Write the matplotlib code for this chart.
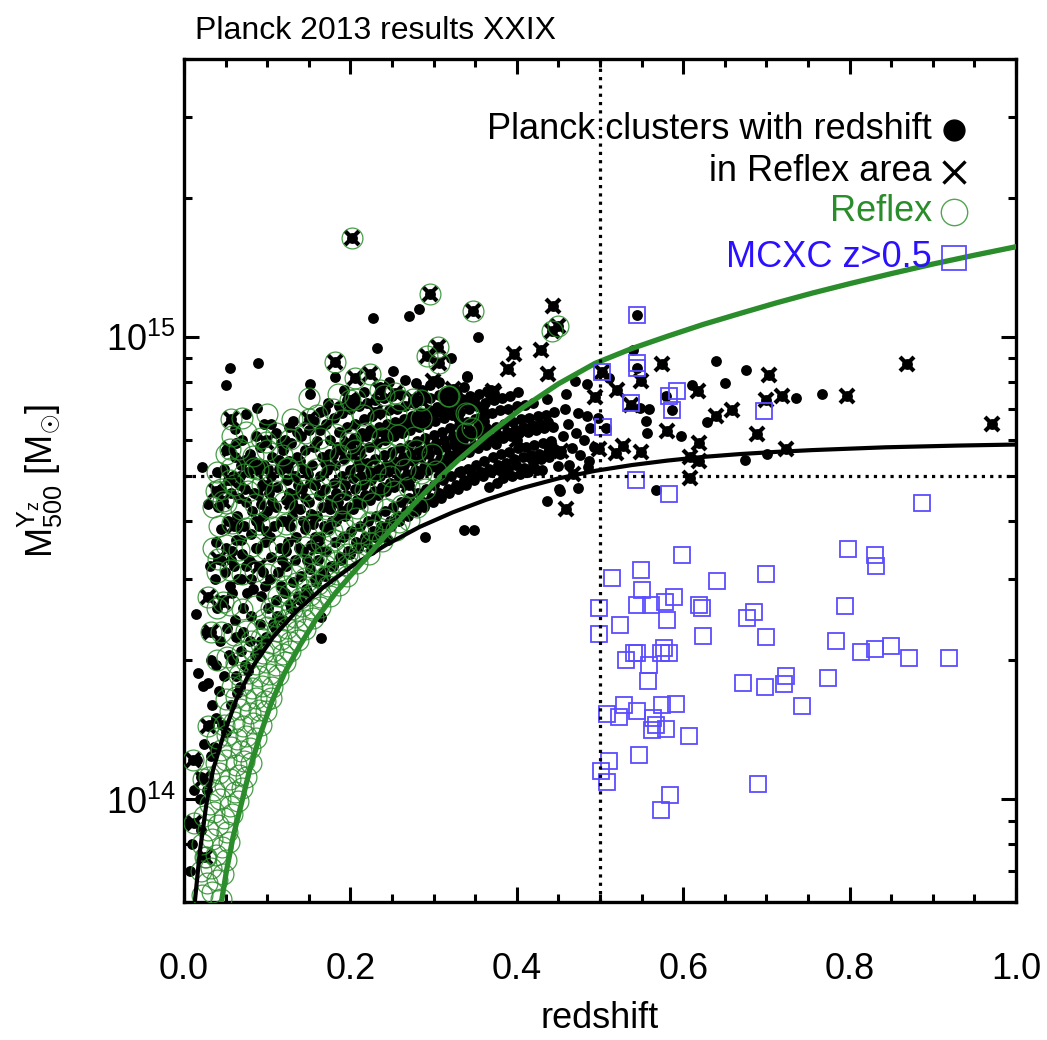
import numpy as np
import matplotlib.pyplot as plt
from matplotlib.ticker import NullFormatter, FixedLocator, MultipleLocator

plt.rcParams['font.family'] = ['Liberation Sans', 'DejaVu Sans']
plt.rcParams['mathtext.fontset'] = 'custom'
plt.rcParams['mathtext.rm'] = 'Liberation Sans'
plt.rcParams['mathtext.it'] = 'Liberation Sans:italic'
plt.rcParams['mathtext.bf'] = 'Liberation Sans:bold'

# all masses in units of 1e14 Msun
# selection curves
black_z = [0.013, 0.019, 0.027, 0.035, 0.047, 0.063, 0.083, 0.107, 0.135, 0.167, 0.203, 0.243,
           0.283, 0.323, 0.363, 0.407, 0.450, 0.494, 0.538, 0.581, 0.624, 0.669, 0.712, 0.755,
           0.843, 0.930, 1.0]
black_m = [0.60, 0.77, 0.98, 1.16, 1.37, 1.647, 1.944, 2.244, 2.553, 2.873, 3.209, 3.556,
           3.886, 4.18, 4.45, 4.72, 4.95, 5.14, 5.29, 5.41, 5.51, 5.59, 5.65, 5.70,
           5.78, 5.83, 5.86]
green_z = [0.045, 0.051, 0.059, 0.069, 0.079, 0.091, 0.105, 0.121, 0.139, 0.159, 0.183, 0.211,
           0.243, 0.275, 0.307, 0.330, 0.363, 0.407, 0.450, 0.494, 0.538, 0.581, 0.624, 0.669,
           0.712, 0.755, 0.800, 0.850, 0.900, 0.950, 1.0]
green_m = [0.60, 0.70, 0.83, 0.98, 1.16, 1.37, 1.62, 1.88, 2.15, 2.46, 2.81, 3.21,
           3.74, 4.33, 4.97, 5.43, 6.11, 7.04, 7.93, 8.78, 9.45, 10.05, 10.66, 11.27,
           11.87, 12.46, 13.06, 13.73, 14.40, 15.05, 15.7]

# Planck clusters with redshift (dots only)
dots = [
    (0.005, 0.89), (0.007, 0.70), (0.010, 0.80), (0.012, 1.05), (0.015, 2.52), (0.016, 1.22),
    (0.017, 1.88), (0.019, 1.00), (0.021, 1.12), (0.023, 1.76), (0.022, 5.25), (0.020, 0.86), (0.024, 1.32),
    (0.029, 1.79), (0.028, 1.05), (0.030, 1.45), (0.033, 1.24), (0.027, 2.30), (0.031, 3.20), (0.032, 2.00),
    (0.034, 1.60), (0.029, 4.35),
    (0.036, 1.30), (0.038, 1.95), (0.040, 2.60), (0.042, 1.72), (0.037, 3.00), (0.039, 3.60), (0.041, 4.30),
    (0.043, 2.20), (0.044, 3.30), (0.040, 5.10), (0.038, 1.50), (0.044, 4.70),
    (0.046, 1.45), (0.048, 1.85), (0.050, 1.40), (0.052, 2.35), (0.047, 2.70), (0.049, 3.10), (0.051, 3.50),
    (0.053, 4.00), (0.046, 4.40), (0.048, 5.20), (0.051, 5.70), (0.051, 7.89), (0.055, 8.58), (0.054, 2.05),
    (0.055, 2.90), (0.045, 3.85), (0.053, 4.90), (0.056, 3.30),
    (0.057, 1.60), (0.059, 2.00), (0.061, 2.45), (0.063, 1.85), (0.058, 2.80), (0.060, 3.20), (0.062, 3.65),
    (0.064, 4.10), (0.057, 4.60), (0.059, 5.00), (0.061, 5.50), (0.061, 6.34), (0.063, 2.25), (0.065, 3.00),
    (0.066, 4.50), (0.058, 3.45), (0.062, 5.90), (0.064, 1.70),
    (0.067, 1.75), (0.069, 2.10), (0.071, 2.60), (0.073, 1.95), (0.068, 3.00), (0.070, 3.40), (0.072, 3.90),
    (0.074, 4.40), (0.067, 4.80), (0.069, 5.30), (0.073, 5.43), (0.067, 5.00), (0.075, 6.81), (0.071, 2.30),
    (0.075, 3.20), (0.076, 2.80), (0.068, 3.65), (0.073, 4.70), (0.070, 6.00),
    (0.077, 1.90), (0.079, 2.20), (0.081, 2.50), (0.083, 2.85), (0.078, 3.30), (0.080, 3.75), (0.082, 4.20),
    (0.084, 4.60), (0.077, 5.10), (0.079, 5.60), (0.088, 7.04), (0.089, 8.79), (0.090, 5.13), (0.085, 2.05),
    (0.086, 3.50), (0.081, 3.00), (0.083, 5.40), (0.086, 4.00), (0.087, 6.10),
    (0.089, 2.10), (0.091, 2.40), (0.093, 2.75), (0.095, 3.10), (0.088, 3.50), (0.090, 3.90), (0.092, 4.35),
    (0.094, 4.80), (0.096, 5.30), (0.096, 6.49), (0.091, 5.80), (0.093, 2.20), (0.097, 3.60), (0.089, 4.55),
    (0.095, 4.10), (0.097, 2.90),
    (0.099, 2.25), (0.101, 2.60), (0.103, 3.00), (0.105, 3.35), (0.098, 3.80), (0.100, 4.20), (0.102, 4.60),
    (0.104, 5.00), (0.106, 5.50), (0.105, 6.49), (0.099, 6.00), (0.107, 2.40), (0.103, 3.70), (0.106, 4.40),
    (0.101, 5.20),
    (0.109, 2.35), (0.111, 2.70), (0.113, 3.10), (0.115, 3.50), (0.108, 3.90), (0.110, 4.30), (0.112, 4.75),
    (0.114, 5.20), (0.114, 5.43), (0.116, 5.90), (0.112, 2.50), (0.116, 4.00), (0.118, 3.30), (0.110, 6.20),
    (0.117, 2.90),
    (0.119, 2.45), (0.121, 2.80), (0.123, 3.20), (0.125, 3.60), (0.120, 4.00), (0.122, 4.45), (0.124, 4.90),
    (0.126, 6.40), (0.126, 5.40), (0.119, 5.70), (0.127, 2.65), (0.128, 3.90), (0.122, 3.45), (0.126, 4.60),
    (0.121, 6.00),
    (0.129, 2.60), (0.131, 2.95), (0.133, 3.30), (0.135, 3.70), (0.130, 4.10), (0.132, 4.55), (0.134, 5.00),
    (0.136, 6.23), (0.136, 5.50), (0.129, 5.90), (0.137, 2.75), (0.138, 3.50), (0.132, 4.30), (0.137, 4.80),
    (0.131, 6.60),
    (0.139, 2.70), (0.141, 3.05), (0.143, 3.45), (0.145, 3.85), (0.140, 4.25), (0.142, 4.70), (0.144, 5.20),
    (0.146, 5.70), (0.141, 6.10), (0.147, 2.85), (0.148, 3.30), (0.143, 4.00), (0.139, 5.40), (0.146, 4.50),
    (0.151, 7.94), (0.152, 7.53), (0.149, 2.80), (0.151, 3.15), (0.153, 3.55), (0.155, 3.95), (0.150, 4.40),
    (0.152, 4.85), (0.154, 5.30), (0.156, 5.80), (0.150, 6.30), (0.157, 3.00), (0.158, 3.70), (0.153, 4.15),
    (0.149, 5.05), (0.156, 6.60),
    (0.163, 6.31), (0.165, 2.48), (0.165, 2.23), (0.159, 2.95), (0.161, 3.30), (0.163, 3.70), (0.160, 4.10),
    (0.162, 4.55), (0.164, 5.00), (0.166, 5.50), (0.160, 5.95), (0.167, 3.10), (0.168, 3.90), (0.158, 4.80),
    (0.167, 4.30), (0.163, 6.90),
    (0.171, 6.49), (0.170, 6.95), (0.169, 3.05), (0.171, 3.45), (0.173, 3.85), (0.175, 4.25), (0.170, 4.70),
    (0.172, 5.15), (0.174, 5.60), (0.176, 6.00), (0.177, 3.20), (0.178, 4.00), (0.169, 5.35), (0.176, 4.45),
    (0.173, 7.20),
    (0.181, 8.20), (0.179, 3.20), (0.181, 3.60), (0.183, 4.00), (0.185, 4.40), (0.180, 4.85), (0.182, 5.30),
    (0.184, 5.80), (0.186, 6.25), (0.180, 6.70), (0.187, 3.35), (0.188, 4.15), (0.183, 4.60), (0.179, 5.55),
    (0.186, 7.10),
    (0.189, 3.30), (0.191, 3.70), (0.193, 4.10), (0.195, 4.55), (0.190, 5.00), (0.192, 5.45), (0.194, 5.90),
    (0.196, 6.40), (0.190, 6.85), (0.197, 3.45), (0.198, 4.30), (0.193, 4.80), (0.189, 5.70), (0.196, 7.30),
    (0.192, 7.70),
    (0.199, 3.40), (0.201, 3.80), (0.203, 4.25), (0.205, 4.70), (0.200, 5.15), (0.202, 5.60), (0.204, 6.05),
    (0.206, 6.50), (0.200, 7.00), (0.207, 3.60), (0.208, 4.45), (0.203, 4.95), (0.199, 5.85), (0.206, 7.40),
    (0.209, 3.50), (0.211, 3.90), (0.213, 4.35), (0.215, 4.80), (0.210, 5.25), (0.212, 5.70), (0.214, 6.20),
    (0.216, 6.65), (0.210, 7.10), (0.217, 3.70), (0.218, 4.55), (0.213, 5.00), (0.209, 6.00), (0.216, 7.60),
    (0.219, 3.60), (0.221, 4.00), (0.223, 4.45), (0.225, 4.90), (0.220, 5.35), (0.222, 5.80), (0.224, 6.30),
    (0.226, 6.75), (0.220, 7.20), (0.227, 3.80), (0.228, 4.65), (0.223, 5.10), (0.219, 6.10), (0.227, 11.0),
    (0.225, 3.47),
    (0.232, 9.46), (0.229, 3.70), (0.231, 4.10), (0.233, 4.55), (0.235, 5.00), (0.230, 5.45), (0.232, 5.90),
    (0.234, 6.40), (0.236, 6.85), (0.230, 7.30), (0.237, 3.90), (0.238, 4.75), (0.233, 5.20), (0.229, 6.20),
    (0.236, 7.80),
    (0.239, 3.80), (0.241, 4.20), (0.243, 4.65), (0.245, 5.10), (0.240, 5.55), (0.242, 6.00), (0.244, 6.50),
    (0.246, 6.95), (0.240, 7.40), (0.247, 4.00), (0.248, 4.85), (0.243, 5.30), (0.239, 6.25), (0.246, 8.00),
    (0.245, 3.64),
    (0.251, 8.44), (0.249, 3.90), (0.251, 4.30), (0.253, 4.75), (0.255, 5.20), (0.250, 5.65), (0.252, 6.10),
    (0.254, 6.55), (0.256, 7.00), (0.250, 7.45), (0.257, 4.10), (0.258, 4.95), (0.253, 5.40), (0.249, 6.35),
    (0.259, 4.00), (0.261, 4.40), (0.263, 4.85), (0.265, 5.30), (0.260, 5.75), (0.262, 6.20), (0.264, 6.65),
    (0.266, 7.10), (0.260, 7.55), (0.267, 4.20), (0.268, 5.05), (0.263, 5.50), (0.259, 6.40), (0.266, 8.10),
    (0.270, 11.1), (0.279, 7.98), (0.269, 4.10), (0.271, 4.50), (0.273, 4.95), (0.275, 5.40), (0.270, 5.85),
    (0.272, 6.30), (0.274, 6.75), (0.276, 7.20), (0.277, 4.30), (0.278, 5.15), (0.273, 5.60), (0.269, 6.50),
    (0.282, 11.5), (0.279, 4.20), (0.281, 4.60), (0.283, 5.05), (0.285, 5.50), (0.280, 5.95), (0.282, 6.40),
    (0.284, 6.85), (0.286, 7.30), (0.287, 4.40), (0.288, 5.25), (0.283, 5.70), (0.279, 6.60), (0.286, 7.70),
    (0.289, 4.30), (0.291, 4.70), (0.293, 5.15), (0.295, 5.60), (0.290, 6.05), (0.292, 6.50), (0.294, 6.95),
    (0.296, 7.40), (0.297, 4.50), (0.298, 5.35), (0.293, 5.80), (0.289, 6.70), (0.296, 7.90), (0.290, 3.70),
    (0.299, 4.40), (0.301, 4.80), (0.303, 5.25), (0.305, 5.70), (0.300, 6.15), (0.302, 6.60), (0.304, 7.05),
    (0.306, 7.50), (0.307, 4.60), (0.308, 5.45), (0.303, 5.90), (0.299, 6.80), (0.306, 8.00),
    (0.309, 4.50), (0.311, 4.90), (0.313, 5.35), (0.315, 5.80), (0.310, 6.25), (0.312, 6.70), (0.314, 7.15),
    (0.316, 7.60), (0.317, 4.70), (0.318, 5.55), (0.313, 6.00), (0.309, 6.90),
    (0.319, 4.60), (0.321, 5.00), (0.323, 5.45), (0.325, 5.90), (0.320, 6.35), (0.322, 6.80), (0.324, 7.25),
    (0.326, 7.70), (0.327, 4.80), (0.328, 5.65), (0.323, 6.10), (0.319, 7.00), (0.321, 9.00),
    (0.329, 4.70), (0.331, 5.10), (0.333, 5.55), (0.335, 6.00), (0.330, 6.45), (0.332, 6.90), (0.334, 7.35),
    (0.336, 7.80), (0.337, 4.90), (0.338, 5.75), (0.333, 6.20), (0.329, 7.10), (0.329, 6.70), (0.333, 5.13),
    (0.340, 8.24), (0.339, 4.80), (0.341, 5.20), (0.343, 5.65), (0.345, 6.10), (0.340, 6.55), (0.342, 7.00),
    (0.344, 7.45), (0.347, 5.00), (0.348, 5.85), (0.343, 6.30), (0.339, 7.20), (0.340, 8.22), (0.346, 5.05),
    (0.337, 3.83), (0.348, 3.83),
    (0.353, 10.0), (0.349, 4.90), (0.351, 5.30), (0.353, 5.75), (0.355, 6.20), (0.350, 6.65), (0.352, 7.10),
    (0.354, 7.55), (0.357, 5.10), (0.358, 5.95), (0.353, 6.40), (0.349, 7.30),
    (0.359, 5.00), (0.361, 5.40), (0.363, 5.85), (0.365, 6.30), (0.360, 6.75), (0.362, 7.20), (0.364, 7.65),
    (0.367, 5.20), (0.368, 6.05), (0.359, 7.00), (0.366, 4.75),
    (0.369, 5.10), (0.371, 5.50), (0.373, 5.95), (0.375, 6.40), (0.370, 6.85), (0.372, 7.30), (0.377, 5.30),
    (0.378, 6.15), (0.369, 7.70), (0.376, 4.85), (0.375, 5.88),
    (0.379, 5.15), (0.381, 5.60), (0.383, 6.05), (0.385, 6.50), (0.380, 6.95), (0.382, 7.40), (0.387, 5.35),
    (0.388, 6.25), (0.384, 4.95), (0.383, 5.09),
    (0.389, 5.20), (0.391, 5.65), (0.393, 6.10), (0.395, 6.55), (0.390, 7.00), (0.392, 7.45), (0.397, 5.45),
    (0.398, 6.30), (0.394, 5.00),
    (0.399, 5.30), (0.401, 5.75), (0.403, 6.20), (0.405, 6.65), (0.400, 7.10), (0.407, 5.50), (0.408, 6.40),
    (0.404, 5.05), (0.402, 7.60), (0.409, 5.21),
    (0.411, 5.80), (0.413, 6.25), (0.415, 6.70), (0.410, 7.15), (0.417, 5.55), (0.418, 6.45), (0.414, 5.10),
    (0.419, 5.40), (0.421, 5.85), (0.423, 6.30), (0.425, 6.75), (0.427, 5.60), (0.428, 6.50), (0.424, 5.15),
    (0.420, 7.20),
    (0.429, 5.45), (0.431, 5.90), (0.433, 6.35), (0.435, 6.80), (0.437, 5.65), (0.438, 6.55), (0.430, 5.15),
    (0.436, 4.42), (0.436, 7.35),
    (0.439, 5.50), (0.441, 5.95), (0.443, 6.40), (0.447, 5.70), (0.445, 6.90),
    (0.452, 5.60), (0.456, 6.10), (0.461, 6.50), (0.466, 5.75), (0.471, 6.20), (0.476, 5.55), (0.481, 6.00),
    (0.488, 6.35), (0.493, 5.80), (0.498, 6.70), (0.458, 7.00), (0.474, 6.85), (0.463, 5.30), (0.485, 5.25),
    (0.450, 5.26), (0.452, 4.65), (0.473, 4.71), (0.451, 4.69), (0.487, 5.41), (0.484, 6.75), (0.459, 7.53),
    (0.470, 8.04), (0.484, 7.94), (0.511, 8.15), (0.507, 6.37),
    (0.540, 9.38), (0.545, 11.2), (0.545, 8.58), (0.639, 8.89), (0.676, 8.50), (0.650, 7.95), (0.611, 7.87),
    (0.579, 7.46), (0.586, 6.95), (0.559, 7.01), (0.548, 7.03), (0.597, 6.11), (0.629, 6.55), (0.555, 6.59),
    (0.557, 6.21), (0.735, 7.40), (0.767, 7.53), (0.701, 5.58), (0.674, 5.42), (0.567, 4.67),
]

# Planck clusters in Reflex area that are also Reflex clusters (dot + cross + circle)
cross_circ = [
    (0.202, 16.4), (0.296, 12.4), (0.347, 11.4), (0.182, 8.85), (0.205, 8.15), (0.223, 8.32),
    (0.235, 7.68), (0.254, 7.59), (0.056, 6.67), (0.150, 6.64), (0.098, 5.94), (0.055, 5.74),
    (0.199, 5.90), (0.055, 4.90), (0.039, 4.66), (0.084, 5.21), (0.305, 9.55), (0.292, 9.12),
    (0.307, 8.81), (0.275, 7.34), (0.317, 7.46), (0.047, 4.42), (0.041, 3.32), (0.047, 2.67),
    (0.029, 2.74), (0.033, 2.30), (0.029, 1.44), (0.011, 1.22), (0.023, 1.11), (0.012, 0.89),
    (0.025, 0.75), (0.125, 5.21), (0.199, 7.31), (0.285, 7.31), (0.442, 10.3), (0.450, 10.6),
]

# Planck clusters in Reflex area, no Reflex counterpart (dot + cross)
cross_only = [
    (0.443, 11.7), (0.397, 9.19), (0.429, 9.38), (0.389, 8.53), (0.437, 8.32), (0.372, 7.59),
    (0.328, 7.53), (0.494, 7.43), (0.520, 7.68), (0.549, 8.04), (0.574, 8.75), (0.703, 8.28),
    (0.869, 8.77), (0.719, 7.46), (0.797, 7.48), (0.699, 7.30), (0.659, 6.95), (0.639, 6.75),
    (0.580, 6.27), (0.689, 6.18), (0.619, 5.90), (0.528, 5.81), (0.519, 5.62), (0.549, 5.65),
    (0.499, 5.72), (0.453, 5.67), (0.439, 5.72), (0.619, 5.39), (0.608, 5.52), (0.724, 5.73),
    (0.608, 4.95), (0.459, 4.26), (0.537, 7.13), (0.503, 8.43), (0.618, 7.66), (0.971, 6.48),
    (0.468, 5.05), (0.299, 8.04), (0.371, 7.66), (0.323, 7.71), (0.060, 3.90), (0.090, 3.20),
    (0.130, 4.40), (0.160, 3.50), (0.210, 5.40), (0.250, 6.30), (0.270, 4.80), (0.330, 5.90),
    (0.360, 6.60), (0.400, 6.00), (0.420, 5.30), (0.100, 4.80), (0.190, 4.20), (0.230, 6.90),
    (0.310, 5.20),
]

# Reflex clusters (open circles) not marked above
circles = [
    (0.022, 0.62), (0.034, 0.63), (0.044, 0.61), (0.028, 0.66), (0.040, 0.67),
    (0.020, 0.70), (0.032, 0.71), (0.047, 0.69), (0.026, 0.75), (0.038, 0.76), (0.050, 0.74),
    (0.022, 0.80), (0.034, 0.82), (0.046, 0.79), (0.054, 0.81), (0.029, 0.86), (0.041, 0.88), (0.052, 0.85),
    (0.024, 0.92), (0.036, 0.94), (0.048, 0.91), (0.058, 0.93),
    (0.031, 0.98), (0.043, 1.00), (0.055, 0.97), (0.065, 0.99),
    (0.036, 1.05), (0.049, 1.07), (0.061, 1.04), (0.070, 1.06),
    (0.030, 1.12), (0.042, 1.14), (0.055, 1.11), (0.066, 1.13), (0.075, 1.12),
    (0.038, 1.20), (0.050, 1.22), (0.062, 1.19), (0.072, 1.21), (0.080, 1.20),
    (0.045, 1.28), (0.057, 1.30), (0.068, 1.27), (0.079, 1.29),
    (0.040, 1.36), (0.052, 1.38), (0.064, 1.35), (0.075, 1.37), (0.087, 1.36),
    (0.048, 1.45), (0.060, 1.47), (0.071, 1.44), (0.083, 1.46), (0.092, 1.45),
    (0.055, 1.55), (0.067, 1.57), (0.079, 1.54), (0.090, 1.56), (0.099, 1.55),
    (0.050, 1.65), (0.062, 1.67), (0.074, 1.64), (0.086, 1.66), (0.097, 1.63), (0.104, 1.66),
    (0.058, 1.75), (0.070, 1.77), (0.082, 1.74), (0.094, 1.76), (0.106, 1.75),
    (0.066, 1.86), (0.078, 1.88), (0.090, 1.85), (0.102, 1.87), (0.113, 1.86),
    (0.062, 1.97), (0.074, 1.99), (0.086, 1.96), (0.098, 1.98), (0.110, 1.95), (0.121, 1.98),
    (0.040, 2.00), (0.052, 2.03),
    (0.070, 2.08), (0.083, 2.11), (0.095, 2.07), (0.107, 2.10), (0.119, 2.06), (0.128, 2.09),
    (0.080, 2.20), (0.092, 2.23), (0.104, 2.18), (0.116, 2.22), (0.127, 2.19), (0.137, 2.21),
    (0.045, 2.30), (0.060, 2.27), (0.075, 2.32),
    (0.088, 2.33), (0.100, 2.36), (0.112, 2.31), (0.124, 2.35), (0.136, 2.32), (0.146, 2.34),
    (0.096, 2.46), (0.109, 2.49), (0.121, 2.44), (0.133, 2.48), (0.145, 2.45), (0.155, 2.47),
    (0.040, 2.60), (0.055, 2.63), (0.070, 2.58), (0.085, 2.62),
    (0.104, 2.60), (0.117, 2.64), (0.130, 2.58), (0.142, 2.62), (0.154, 2.59), (0.164, 2.61),
    (0.113, 2.75), (0.126, 2.79), (0.139, 2.73), (0.151, 2.77), (0.163, 2.74), (0.175, 2.76),
    (0.122, 2.90), (0.135, 2.94), (0.148, 2.88), (0.161, 2.92), (0.173, 2.89), (0.186, 2.91),
    (0.040, 3.10), (0.055, 3.14), (0.070, 3.07), (0.085, 3.12), (0.100, 3.08), (0.116, 3.13),
    (0.132, 3.06), (0.145, 3.02), (0.158, 3.09), (0.171, 3.04), (0.184, 3.08), (0.196, 3.05),
    (0.142, 3.23), (0.156, 3.27), (0.170, 3.21), (0.183, 3.26), (0.196, 3.22), (0.208, 3.25),
    (0.035, 3.50), (0.050, 3.55), (0.066, 3.47), (0.082, 3.53), (0.098, 3.48), (0.114, 3.54),
    (0.130, 3.49), (0.146, 3.52),
    (0.153, 3.41), (0.168, 3.37), (0.182, 3.43), (0.196, 3.39), (0.210, 3.42), (0.222, 3.40),
    (0.165, 3.60), (0.180, 3.65), (0.195, 3.58), (0.210, 3.63), (0.225, 3.59), (0.238, 3.62),
    (0.178, 3.80), (0.194, 3.85), (0.210, 3.78), (0.226, 3.83), (0.242, 3.79), (0.255, 3.82),
    (0.042, 3.90), (0.058, 3.96), (0.074, 3.87), (0.090, 3.94), (0.106, 3.88), (0.122, 3.95),
    (0.138, 3.89), (0.155, 3.93), (0.170, 3.91),
    (0.190, 4.00), (0.207, 4.06), (0.224, 3.98), (0.241, 4.05), (0.258, 3.99), (0.270, 4.03),
    (0.035, 4.30), (0.050, 4.38), (0.068, 4.25), (0.085, 4.36), (0.102, 4.27), (0.120, 4.40),
    (0.138, 4.26), (0.155, 4.35), (0.172, 4.24), (0.190, 4.39), (0.208, 4.28), (0.226, 4.37),
    (0.244, 4.25), (0.262, 4.34), (0.280, 4.29),
    (0.045, 4.70), (0.060, 4.80), (0.077, 4.65), (0.094, 4.78), (0.111, 4.66), (0.129, 4.82),
    (0.147, 4.68), (0.164, 4.76), (0.181, 4.64), (0.199, 4.79), (0.217, 4.67), (0.235, 4.81),
    (0.253, 4.66), (0.271, 4.75), (0.290, 4.69),
    (0.040, 5.10), (0.056, 5.22), (0.072, 5.05), (0.089, 5.19), (0.106, 5.04), (0.124, 5.21),
    (0.141, 5.07), (0.159, 5.18), (0.176, 5.03), (0.194, 5.20), (0.212, 5.06), (0.230, 5.17),
    (0.248, 5.02), (0.266, 5.19), (0.285, 5.08), (0.303, 5.14),
    (0.050, 5.60), (0.066, 5.72), (0.083, 5.54), (0.100, 5.70), (0.118, 5.55), (0.135, 5.68),
    (0.153, 5.52), (0.170, 5.71), (0.188, 5.57), (0.206, 5.69), (0.224, 5.53), (0.242, 5.66),
    (0.260, 5.56), (0.279, 5.70), (0.298, 5.58),
    (0.058, 6.10), (0.075, 6.24), (0.092, 6.04), (0.110, 6.20), (0.128, 6.02), (0.146, 6.22),
    (0.164, 6.06), (0.182, 6.18), (0.200, 6.03), (0.219, 6.21), (0.238, 6.05), (0.257, 6.16),
    (0.276, 6.08),
    (0.070, 6.70), (0.100, 6.82), (0.130, 6.64), (0.160, 6.80), (0.190, 6.62), (0.215, 6.78),
    (0.235, 6.66), (0.255, 6.84), (0.285, 6.68),
    (0.150, 7.40), (0.185, 7.52), (0.205, 7.35), (0.240, 7.50), (0.260, 7.32), (0.179, 6.98),
    (0.341, 6.82), (0.346, 6.37), (0.339, 6.21), (0.319, 7.46), (0.339, 6.87),
]

# MCXC clusters at z > 0.5 (open squares)
mcxc = [
    (0.543, 4.92), (0.583, 4.59), (0.887, 4.37), (0.798, 3.48), (0.830, 3.38), (0.832, 3.20),
    (0.599, 3.38), (0.549, 3.13), (0.515, 3.02), (0.641, 2.97), (0.699, 3.07), (0.551, 2.84),
    (0.499, 2.59), (0.544, 2.63), (0.561, 2.63), (0.578, 2.67), (0.589, 2.74), (0.619, 2.63),
    (0.623, 2.60), (0.685, 2.55), (0.677, 2.47), (0.795, 2.62), (0.581, 2.44), (0.524, 2.38),
    (0.499, 2.28), (0.624, 2.26), (0.699, 2.25), (0.784, 2.20), (0.814, 2.08), (0.830, 2.12),
    (0.850, 2.15), (0.871, 2.02), (0.919, 2.02), (0.531, 2.00), (0.545, 2.07), (0.541, 2.07),
    (0.577, 2.13), (0.573, 2.07), (0.583, 2.07), (0.559, 1.95), (0.558, 1.80), (0.672, 1.79),
    (0.698, 1.75), (0.724, 1.85), (0.721, 1.78), (0.774, 1.83), (0.743, 1.59), (0.509, 1.53),
    (0.529, 1.60), (0.523, 1.51), (0.545, 1.55), (0.575, 1.60), (0.591, 1.61), (0.564, 1.50),
    (0.567, 1.45), (0.563, 1.41), (0.579, 1.42), (0.607, 1.37), (0.547, 1.25), (0.511, 1.21),
    (0.501, 1.15), (0.509, 1.09), (0.584, 1.02), (0.573, 0.95), (0.690, 1.08),
    (0.545, 11.2), (0.545, 8.57), (0.545, 8.81), (0.503, 8.43), (0.537, 7.19), (0.583, 7.46),
    (0.593, 7.64), (0.586, 6.95), (0.697, 6.92), (0.504, 6.40),
]

green = '#2a8c2a'
blue_txt = '#2a10ff'
blue_sq = '#5a4dff'

fig = plt.figure(figsize=(10.47, 10.40), dpi=100)
ax = fig.add_axes([184 / 1047, 138 / 1040, 832 / 1047, 843 / 1040])

all_planck = dots + cross_circ + cross_only
pz = [p[0] for p in all_planck]
pm = [p[1] * 1e14 for p in all_planck]
ax.plot(pz, pm, 'o', color='k', ms=7.8, mew=0, zorder=2)

cr = cross_circ + cross_only
ax.plot([p[0] for p in cr], [p[1] * 1e14 for p in cr], 'x', color='k', ms=9.5, mew=3, zorder=3)

rc = circles + cross_circ
ax.plot([p[0] for p in rc], [p[1] * 1e14 for p in rc], 'o', mfc='none', mec=green,
        ms=15, mew=0.9, alpha=0.85, zorder=4)

ax.plot(black_z, np.array(black_m) * 1e14, color='k', lw=3, zorder=5)
ax.plot(green_z, np.array(green_m) * 1e14, color=green, lw=3.8, zorder=5)

ax.plot([p[0] for p in mcxc], [p[1] * 1e14 for p in mcxc], 's', mfc='none', mec=blue_sq,
        ms=12, mew=1.3, zorder=6)

ax.axvline(0.5, color='k', ls=(0, (1, 1.6)), lw=2.3, zorder=7)
ax.axhline(5e14, color='k', ls=(0, (1, 1.6)), lw=2.3, zorder=7)

ax.set_yscale('log')
ax.set_xlim(0, 1)
ax.set_ylim(6e13, 4e15)

ax.xaxis.set_major_locator(FixedLocator([0.0, 0.2, 0.4, 0.6, 0.8, 1.0]))
ax.xaxis.set_minor_locator(MultipleLocator(0.05))
ax.set_xticklabels(['0.0', '0.2', '0.4', '0.6', '0.8', '1.0'])
ax.yaxis.set_major_locator(FixedLocator([1e14, 1e15]))
ax.set_yticklabels([r'$10^{14}$', r'$10^{15}$'])
ax.yaxis.set_minor_formatter(NullFormatter())
ax.tick_params(which='both', direction='in', top=True, right=True, width=2.2, labelsize=26)
ax.tick_params(which='major', length=11)
ax.tick_params(which='minor', length=6)
ax.tick_params(axis='x', which='major', pad=36)
ax.tick_params(axis='y', which='major', pad=6)
for s in ax.spines.values():
    s.set_linewidth(2.4)

ax.set_xlabel('redshift', fontsize=26, labelpad=10)
ax.set_ylabel(r'$\mathrm{M}_{500}^{\mathrm{Y}_{\mathrm{z}}}\ [\mathrm{M}_{\odot}]$', fontsize=26)
ax.yaxis.set_label_coords(-0.143, 0.5)

fig.text(195 / 1047, 1 - 31 / 1040, 'Planck 2013 results XXIX', fontsize=23, ha='left', va='center')

# legend, drawn by hand in the top right corner
leg_y = [0.916, 0.866, 0.819, 0.764]
leg_txt = ['Planck clusters with redshift', 'in Reflex area', 'Reflex', 'MCXC z>0.5']
leg_col = ['k', 'k', green, blue_txt]
for y, t, c in zip(leg_y, leg_txt, leg_col):
    ax.text(0.899, y, t, transform=ax.transAxes, ha='right', va='center', fontsize=26, color=c, zorder=10)
ax.plot(0.925, leg_y[0], 'o', color='k', ms=15, transform=ax.transAxes, clip_on=False, zorder=10)
ax.plot(0.925, leg_y[1], 'x', color='k', ms=16, mew=2.4, transform=ax.transAxes, clip_on=False, zorder=10)
ax.plot(0.925, leg_y[2], 'o', mfc='none', mec=green, ms=19, mew=1.0, alpha=0.8,
        transform=ax.transAxes, clip_on=False, zorder=10)
ax.plot(0.925, leg_y[3], 's', mfc='none', mec=blue_sq, ms=17, mew=1.3,
        transform=ax.transAxes, clip_on=False, zorder=10)

fig.savefig('out.png', dpi=100)
